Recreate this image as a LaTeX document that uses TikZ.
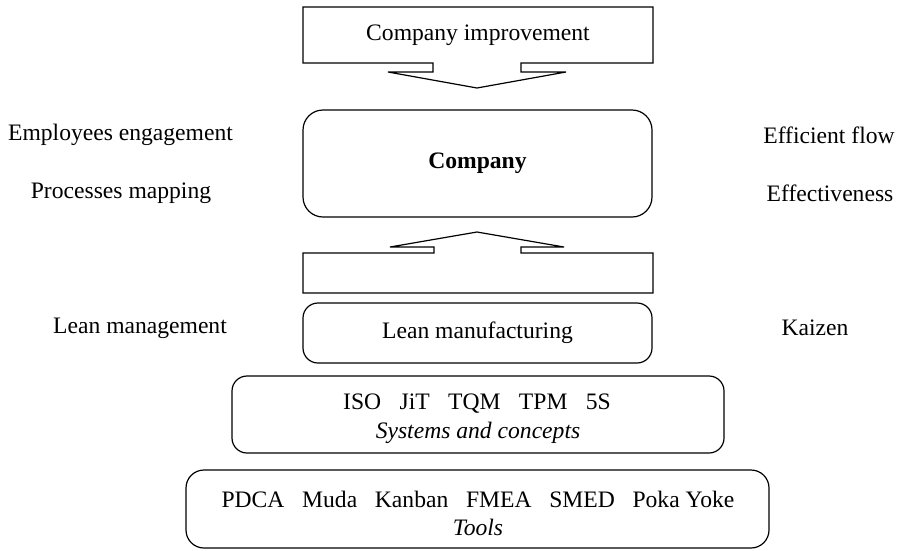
\documentclass[tikz,border=0pt]{standalone}
\usepackage{fontspec}
\setmainfont{Liberation Serif}
\begin{document}
\begin{tikzpicture}[x=1pt,y=-1pt,
  every node/.style={font=\fontsize{23.6}{29}\selectfont, inner sep=0pt},
  shapeline/.style={draw=black, line width=1.2pt, line join=miter},
  rbox/.style={draw=black, line width=1.2pt, rounded corners=#1, align=center},
  lbl/.style={anchor=center}
]
\useasboundingbox (0,0) rectangle (900,550);
% top callout (down arrow)
\draw[shapeline] (303,7) -- (653,7) -- (653,63) -- (521,63) -- (521,72) -- (566,72) -- (477,88)
  -- (388,72) -- (433,72) -- (433,63) -- (303,63) -- cycle;
\node (impr) at (478,35) {Company improvement};
% company box
\node[rbox=20pt, minimum width=349pt, minimum height=107pt] (company) at (477.5,163.5) {\textbf{Company}};
% lower callout (up arrow)
\draw[shapeline] (303,293) -- (653,293) -- (653,253) -- (521,253) -- (521,247) -- (564,247) -- (477,232)
  -- (390,247) -- (434,247) -- (434,253) -- (303,253) -- cycle;
\coordinate (lowcallout) at (477.5,273);
% lean manufacturing
\node[rbox=15pt, minimum width=349pt, minimum height=60pt] (lean) at (477.5,333) {Lean manufacturing};
% systems
\node[rbox=15pt, minimum width=492pt, minimum height=77pt] (systems) at (478,414.5) {};
\node (sysA) at (477,404) {ISO\hspace{0.78em}JiT\hspace{0.78em}TQM\hspace{0.78em}TPM\hspace{0.78em}5S};
\node (sysB) at (478,433) {\itshape Systems and concepts};
% tools
\node[rbox=18pt, minimum width=583pt, minimum height=78pt] (tools) at (477.5,509) {};
\node (toolA) at (478,499) {PDCA\hspace{0.75em}Muda\hspace{0.75em}Kanban\hspace{0.75em}FMEA\hspace{0.75em}SMED\hspace{0.75em}Poka Yoke};
\node (toolB) at (478,527) {\itshape Tools};
% side labels
\node (emp) at (120.5,135) {Employees engagement};
\node (proc) at (121,193) {Processes mapping};
\node (eff) at (829,135) {Efficient flow};
\node (effn) at (830,193) {Effectiveness};
\node (leanm) at (140,328) {Lean management};
\node (kaizen) at (815,328) {Kaizen};
\end{tikzpicture}
\end{document}
